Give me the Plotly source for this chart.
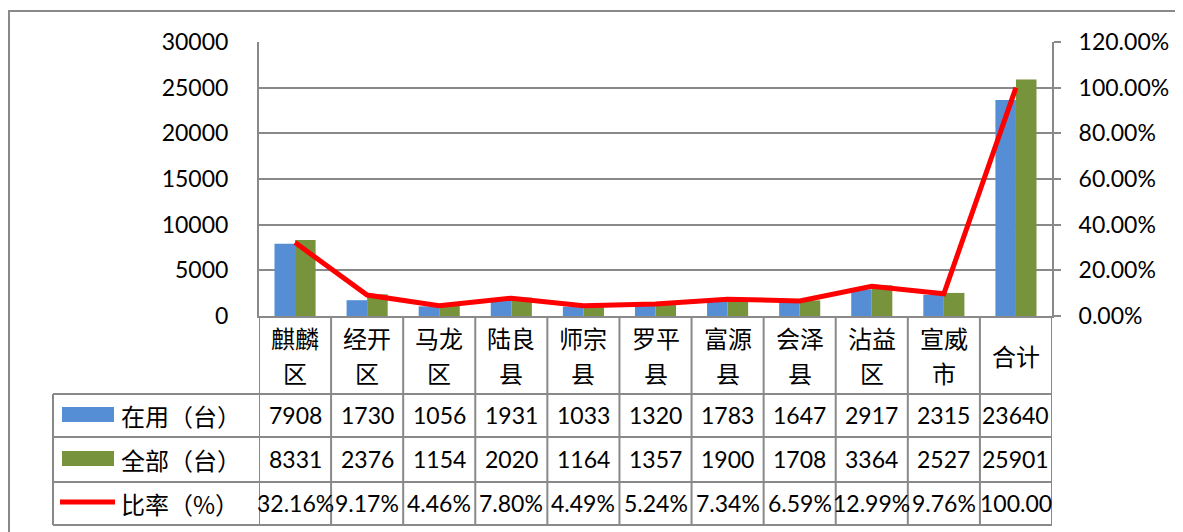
import plotly.graph_objects as go

categories = ["麒麟区", "经开区", "马龙区", "陆良县", "师宗县", "罗平县", "富源县", "会泽县", "沾益区", "宣威市", "合计"]
in_use = [7908, 1730, 1056, 1931, 1033, 1320, 1783, 1647, 2917, 2315, 23640]
total = [8331, 2376, 1154, 2020, 1164, 1357, 1900, 1708, 3364, 2527, 25901]
ratio = [0.3216, 0.0917, 0.0446, 0.0780, 0.0449, 0.0524, 0.0734, 0.0659, 0.1299, 0.0976, 1.0000]
ratio_text = ["32.16%", "9.17%", "4.46%", "7.80%", "4.49%", "5.24%", "7.34%", "6.59%", "12.99%", "9.76%", "100.00"]
series_names = ["在用（台）", "全部（台）", "比率（%）"]

BLUE = "#558ED5"
GREEN = "#77933C"
RED = "#FF0000"
GRID = "#898989"
NUM_FONT = "Lato"
CJK_FONT = "Noto Sans CJK SC"

W, H = 1183, 532
OFF = 8  # page body margin
L, R, T, B = 259, 1052, 42, 316  # page coordinates of the plot area
PW, PH = R - L, B - T


def px(x):
    return (x - L) / PW


def py(y):
    return (B - y) / PH


fig = go.Figure()
fig.add_trace(go.Bar(x=categories, y=in_use, name=series_names[0], marker_color=BLUE, marker_line_width=0))
fig.add_trace(go.Bar(x=categories, y=total, name=series_names[1], marker_color=GREEN, marker_line_width=0))
fig.add_trace(go.Scatter(x=categories, y=ratio, name=series_names[2], yaxis="y2", mode="lines",
                         line=dict(color=RED, width=5)))

shapes = []
ann = []

# outer chart border
shapes.append(dict(type="rect", xref="paper", yref="paper", x0=px(9), x1=px(1300), y0=py(11), y1=py(600),
                   line=dict(color=GRID, width=2), fillcolor="rgba(0,0,0,0)", layer="below"))

# data table grid
row_lines = [394, 437, 482, 525]
for yy in row_lines:
    shapes.append(dict(type="line", xref="paper", yref="paper", x0=px(53), x1=px(R), y0=py(yy), y1=py(yy),
                       line=dict(color=GRID, width=2)))
shapes.append(dict(type="line", xref="paper", yref="paper", x0=px(53), x1=px(53), y0=py(394), y1=py(525),
                   line=dict(color=GRID, width=2)))
for i in range(len(categories) + 1):
    shapes.append(dict(type="line", xref="x", yref="paper", x0=i - 0.5, x1=i - 0.5, y0=py(B), y1=py(525),
                       line=dict(color=GRID, width=2)))

# legend keys inside table
shapes.append(dict(type="rect", xref="paper", yref="paper", x0=px(62), x1=px(114), y0=py(407), y1=py(422),
                   fillcolor=BLUE, line=dict(width=0)))
shapes.append(dict(type="rect", xref="paper", yref="paper", x0=px(62), x1=px(114), y0=py(451), y1=py(466),
                   fillcolor=GREEN, line=dict(width=0)))
shapes.append(dict(type="line", xref="paper", yref="paper", x0=px(60), x1=px(115), y0=py(502), y1=py(502),
                   line=dict(color=RED, width=5)))

row_centers = [415, 459, 503]
for name, yc in zip(series_names, row_centers):
    ann.append(dict(xref="paper", yref="paper", x=px(119), y=py(yc), text=name, showarrow=False,
                    xanchor="left", yanchor="middle", font=dict(family=CJK_FONT, size=24, color="#000000")))

# category labels
for i, c in enumerate(categories):
    if len(c) > 2:
        ann.append(dict(xref="x", yref="paper", x=i, y=py(337), text=c[:2], showarrow=False,
                        xanchor="center", yanchor="middle", font=dict(family=CJK_FONT, size=24, color="#000000")))
        ann.append(dict(xref="x", yref="paper", x=i, y=py(372), text=c[2:], showarrow=False,
                        xanchor="center", yanchor="middle", font=dict(family=CJK_FONT, size=24, color="#000000")))
    else:
        ann.append(dict(xref="x", yref="paper", x=i, y=py(355), text=c, showarrow=False,
                        xanchor="center", yanchor="middle", font=dict(family=CJK_FONT, size=24, color="#000000")))

# table values
for i in range(len(categories)):
    for txt, yc in zip([str(in_use[i]), str(total[i]), ratio_text[i]], row_centers):
        ann.append(dict(xref="x", yref="paper", x=i, y=py(yc), text=txt, showarrow=False,
                        xanchor="center", yanchor="middle", font=dict(family=NUM_FONT, size=23, color="#000000")))

fig.update_layout(
    width=W, height=H,
    margin=dict(l=L - OFF, r=W - (R - OFF), t=T - OFF, b=H - (B - OFF), pad=0),
    paper_bgcolor="white", plot_bgcolor="white",
    barmode="group", bargap=0.43, bargroupgap=0,
    showlegend=False,
    shapes=shapes, annotations=ann,
    xaxis=dict(type="category", range=[-0.5, len(categories) - 0.5], showticklabels=False, ticks="",
               showgrid=False, showline=True, linecolor=GRID, linewidth=2, zeroline=False),
    yaxis=dict(range=[0, 30000], dtick=5000, tick0=0, tickformat="d", showgrid=True, gridcolor=GRID,
               gridwidth=1.5, showline=True, linecolor=GRID, linewidth=2, zeroline=False, ticks="",
               ticklabelstandoff=24, tickfont=dict(family=NUM_FONT, size=23, color="#000000")),
    yaxis2=dict(range=[0, 1.2], dtick=0.2, tick0=0, tickformat=".2%", overlaying="y", side="right",
                showgrid=False, showline=True, linecolor=GRID, linewidth=2, zeroline=False,
                ticks="outside", ticklen=7, tickcolor=GRID, tickwidth=2, ticklabelstandoff=13,
                tickfont=dict(family=NUM_FONT, size=23, color="#000000")),
    font=dict(family=NUM_FONT, color="#000000"),
)

fig.write_html("out.html")
